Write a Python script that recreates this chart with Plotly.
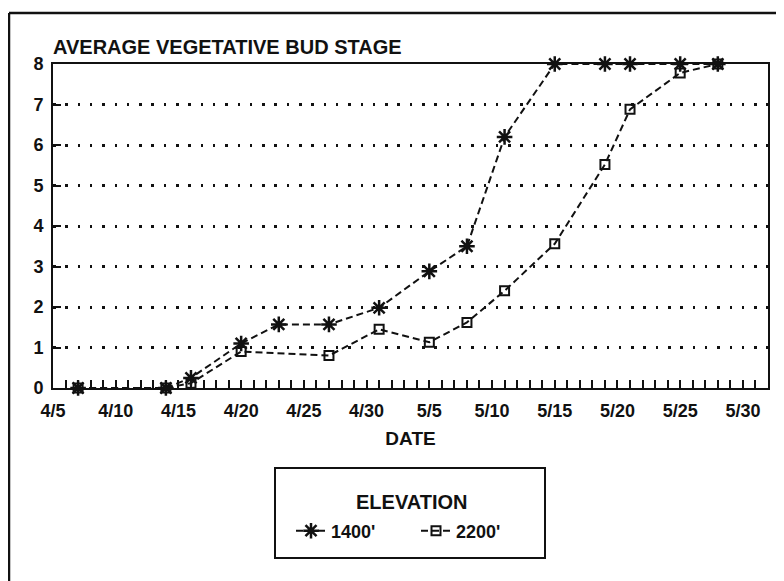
import plotly.graph_objects as go

YEAR = 1990

# ---- data ----
dates_1400 = ["4/7", "4/14", "4/16", "4/20", "4/23", "4/27", "5/1", "5/5", "5/8",
              "5/11", "5/15", "5/19", "5/21", "5/25", "5/28"]
stage_1400 = [0, 0, 0.25, 1.1, 1.57, 1.57, 1.98, 2.88, 3.5, 6.2, 8, 8, 8, 8, 8]

dates_2200 = ["4/7", "4/14", "4/16", "4/20", "4/27", "5/1", "5/5", "5/8", "5/11",
              "5/15", "5/19", "5/21", "5/25", "5/28"]
stage_2200 = [0, 0, 0.12, 0.9, 0.8, 1.45, 1.13, 1.62, 2.4, 3.56, 5.52, 6.88, 7.78, 8]

x_tick_labels = ["4/5", "4/10", "4/15", "4/20", "4/25", "4/30", "5/5", "5/10",
                 "5/15", "5/20", "5/25", "5/30"]
y_tick_vals = [0, 1, 2, 3, 4, 5, 6, 7, 8]
series_names = ["1400'", "2200'"]


def to_iso(md):
    m, d = md.split("/")
    return f"{YEAR}-{int(m):02d}-{int(d):02d}"


FONT = "Liberation Sans, Arial, sans-serif"
BLACK = "#111111"

fig = go.Figure()
fig.add_trace(go.Scatter(
    x=[to_iso(d) for d in dates_1400], y=stage_1400, name=series_names[0],
    mode="lines+markers", cliponaxis=False,
    line=dict(color=BLACK, width=2, dash="7px,4px"),
    marker=dict(symbol="asterisk-open", size=13, color=BLACK,
                line=dict(color=BLACK, width=2.5)),
))
fig.add_trace(go.Scatter(
    x=[to_iso(d) for d in dates_2200], y=stage_2200, name=series_names[1],
    mode="lines+markers", cliponaxis=False,
    line=dict(color=BLACK, width=2, dash="7px,4px"),
    marker=dict(symbol="square-open", size=9, color=BLACK,
                line=dict(color=BLACK, width=2)),
))

# The page body adds an 8px offset, so the figure is placed at (8, 8).
OFF = 8
W, H = 784 - OFF, 581 - OFF
# plot-area edges in screenshot pixels
L, R, T, B = 53, 768, 64, 388
Lf, Rf, Tf, Bf = L - OFF, R - OFF, T - OFF, B - OFF
pw, ph = R - L, B - T


def px_x(x):
    return (x - L) / pw


def px_y(y):
    return (B - y) / ph


fig.update_layout(
    width=W, height=H,
    margin=dict(l=Lf, r=W - Rf, t=Tf, b=H - Bf, pad=0),
    paper_bgcolor="white", plot_bgcolor="white",
    font=dict(family=FONT, size=18, color=BLACK, weight="bold"),
    title=dict(text="AVERAGE VEGETATIVE BUD STAGE",
               x=(53 - OFF) / W, xref="container", xanchor="left",
               y=1 - (47 - OFF) / H, yanchor="middle",
               font=dict(family=FONT, size=20, color=BLACK, weight="bold")),
    showlegend=True,
    legend=dict(
        orientation="h", x=px_x(416), xanchor="center", y=px_y(531), yanchor="middle",
        bgcolor="rgba(0,0,0,0)", borderwidth=0,
        font=dict(family=FONT, size=18, color=BLACK, weight="bold"),
        entrywidth=80, itemwidth=30,
    ),
    annotations=[
        dict(text="ELEVATION", xref="paper", yref="paper",
             x=px_x(411), y=px_y(502), xanchor="center", yanchor="middle",
             showarrow=False,
             font=dict(family=FONT, size=20, color=BLACK, weight="bold")),
    ],
    shapes=[
        # legend box
        dict(type="rect", xref="paper", yref="paper",
             x0=px_x(275), x1=px_x(545), y0=px_y(558), y1=px_y(468),
             line=dict(color=BLACK, width=2)),
        # outer page frame (top and left edges)
        dict(type="line", xref="paper", yref="paper",
             x0=px_x(9), x1=px_x(800), y0=px_y(13), y1=px_y(13),
             line=dict(color=BLACK, width=2.5)),
        dict(type="line", xref="paper", yref="paper",
             x0=px_x(9), x1=px_x(9), y0=px_y(13), y1=px_y(600),
             line=dict(color=BLACK, width=2.5)),
    ],
)

fig.update_xaxes(
    type="date",
    range=[f"{YEAR}-04-05", f"{YEAR}-06-01"],
    tickmode="array",
    tickvals=[to_iso(t) for t in x_tick_labels],
    ticktext=x_tick_labels,
    ticks="inside", ticklen=8, tickwidth=1.5, tickcolor=BLACK,
    minor=dict(ticks="inside", ticklen=8, tickwidth=1.5, tickcolor=BLACK,
               dtick=86400000, tick0=f"{YEAR}-04-05", showgrid=False),
    showline=True, linecolor=BLACK, linewidth=2, mirror=True,
    showgrid=False, zeroline=False,
    tickfont=dict(family=FONT, size=18, color=BLACK, weight="bold"),
    ticklabelstandoff=5,
    title=dict(text="DATE", standoff=12,
               font=dict(family=FONT, size=19, color=BLACK, weight="bold")),
)
fig.update_yaxes(
    range=[0, 8],
    tickmode="array", tickvals=y_tick_vals,
    ticktext=[str(v) for v in y_tick_vals],
    ticks="inside", ticklen=8, tickwidth=1.5, tickcolor=BLACK,
    showline=True, linecolor=BLACK, linewidth=2, mirror=True,
    showgrid=True, gridcolor=BLACK, gridwidth=2.5, griddash="2.5px,9.8px",
    zeroline=False,
    tickfont=dict(family=FONT, size=18, color=BLACK, weight="bold"),
    ticklabelstandoff=4,
)

fig.write_html("out.html")
